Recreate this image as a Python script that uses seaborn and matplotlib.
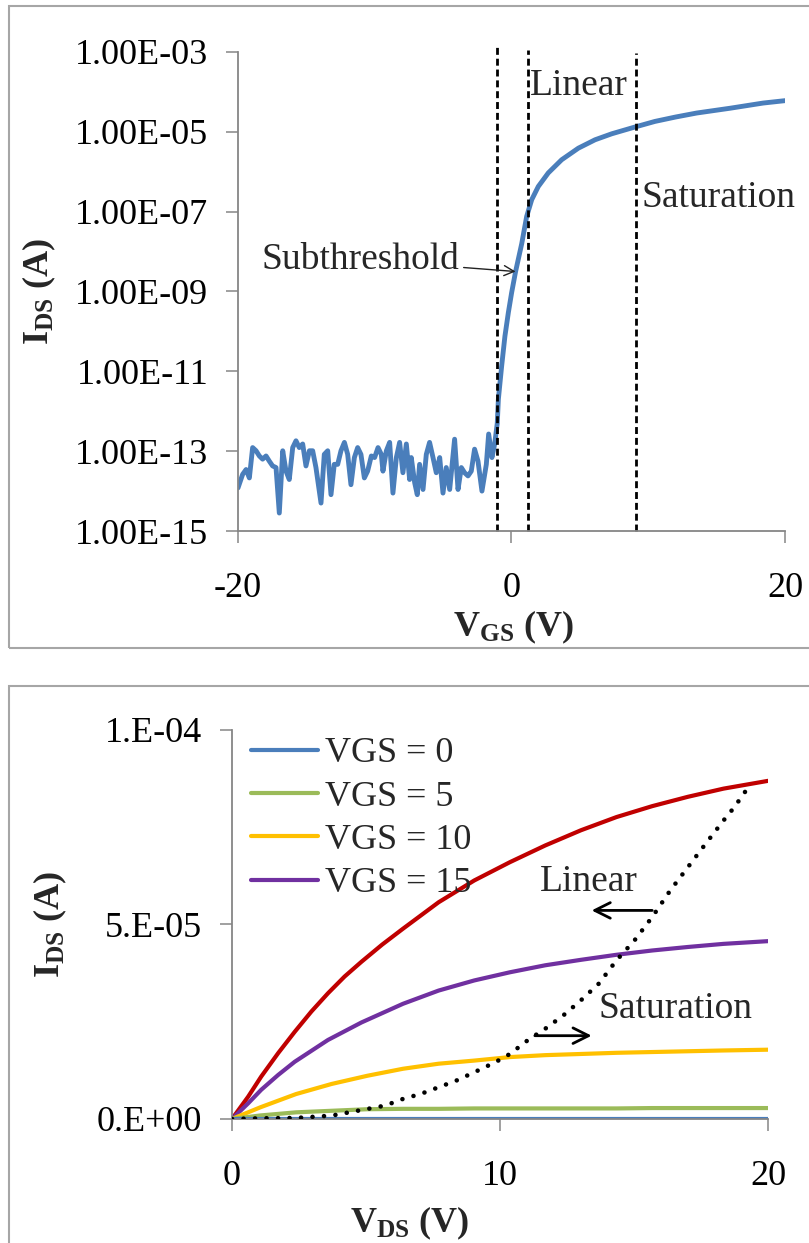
import numpy as np
import pandas as pd
import matplotlib
matplotlib.use("Agg")
import matplotlib.pyplot as plt
import seaborn as sns
from matplotlib.patches import Rectangle
from matplotlib.ticker import FixedLocator, FuncFormatter, NullLocator

# ---------------- top panel data: transfer curve ----------------
vgs_top = [
    -20.00, -19.66, -19.41, -19.17, -18.93, -18.68, -18.44, -18.20, -17.95, -17.71,
    -17.47, -17.22, -16.98, -16.73, -16.49, -16.25, -16.00, -15.76, -15.52, -15.27,
    -15.03, -14.78, -14.54, -14.30, -13.93, -13.69, -13.44, -13.20, -12.96, -12.71,
    -12.47, -12.22, -11.98, -11.74, -11.49, -11.25, -11.01, -10.76, -10.52,
    -10.25, -10.01, -9.76, -9.52, -9.40, -9.15, -8.91, -8.67, -8.42, -8.18,
    -7.94, -7.69, -7.45, -7.33, -7.08, -6.89, -6.72, -6.47, -6.23, -5.99,
    -5.74, -5.50, -5.25, -5.01, -4.77, -4.52, -4.16, -3.91, -3.67, -3.43,
    -3.18, -2.94, -2.70, -2.45, -2.16, -1.84, -1.67, -1.43, -1.23, -1.04,
    -0.96, -0.72, -0.48, -0.23, 0.01, 0.30, 0.75, 1.11, 1.48, 1.96,
    2.69, 3.67, 4.89, 6.11, 7.33, 9.03, 10.49, 12.00, 13.54, 15.98, 18.40, 20.00,
]
log10_ids_top = [
    -13.92, -13.58, -13.46, -13.67, -12.91, -12.99, -13.12, -13.20, -13.12, -13.25,
    -13.37, -13.41, -14.55, -12.99, -13.50, -13.71, -12.91, -12.74, -12.91, -12.82,
    -13.37, -12.99, -12.99, -13.41, -14.30, -13.08, -12.99, -14.09, -13.33, -13.33,
    -12.99, -12.78, -13.08, -13.84, -13.16, -12.91, -13.08, -13.67, -13.50,
    -13.12, -13.16, -12.91, -13.08, -13.50, -12.99, -12.78, -14.05, -13.16, -12.78,
    -13.54, -12.82, -13.71, -13.16, -13.79, -14.09, -13.33, -13.96, -13.08, -12.78,
    -13.16, -13.54, -13.16, -14.05, -13.41, -13.96, -12.70, -13.96, -13.41, -13.54,
    -13.62, -13.50, -12.95, -13.25, -14.00, -13.33, -12.57, -13.16, -12.82, -12.30,
    -11.70, -10.87, -10.12, -9.53, -9.03, -8.50, -7.80, -7.12, -6.70, -6.37,
    -6.03, -5.70, -5.41, -5.20, -5.05, -4.88, -4.74, -4.63, -4.53, -4.41, -4.28, -4.22,
]
region_bounds = [-1.04, 1.18, 9.10]
top_yticks = [1e-15, 1e-13, 1e-11, 1e-9, 1e-7, 1e-5, 1e-3]
top_xticks = [-20, 0, 20]

# ---------------- bottom panel data: output curves (I_DS in 1e-6 A) ----------------
vds = [0, 1.06, 2.39, 3.72, 5.05, 6.38, 7.71, 9.04, 10.37, 11.69, 13.02, 14.35, 15.68, 17.01, 18.34, 20.0]
ids_vgs0 = [0] * 16
ids_vgs5 = [0, 0.9, 1.7, 2.1, 2.5, 2.6, 2.6, 2.7, 2.7, 2.7, 2.7, 2.7, 2.8, 2.8, 2.8, 2.8]
ids_vgs10 = [0, 3.0, 6.4, 9.0, 11.1, 12.9, 14.2, 15.0, 15.9, 16.4, 16.7, 17.0, 17.2, 17.4, 17.6, 17.8]
vds_vgs15 = [0, 0.60, 1.09, 1.72, 2.34, 3.58, 4.83, 6.38, 7.71, 9.04, 10.37, 11.69, 13.02, 14.35,
             15.68, 17.01, 18.34, 20.0]
ids_vgs15 = [0, 4.0, 7.5, 11.3, 14.7, 20.3, 24.8, 29.6, 33.0, 35.6, 37.7, 39.5, 40.9, 42.2,
             43.3, 44.2, 45.0, 45.7]
vds_vgs20 = [0, 0.60, 1.09, 1.72, 2.34, 2.96, 3.58, 4.20, 4.83, 5.60, 6.38, 7.71, 9.04, 10.37, 11.69,
             13.02, 14.35, 15.68, 17.01, 18.34, 20.0]
ids_vgs20 = [0, 5.7, 10.9, 16.9, 22.4, 27.6, 32.3, 36.6, 40.4, 44.8, 48.9, 55.7, 61.3, 66.0, 70.3,
             74.2, 77.6, 80.4, 82.8, 84.9, 86.9]
vds_sat = [0, 1.06, 2.39, 3.72, 4.39, 5.05, 5.71, 6.38, 7.04, 7.71, 8.37, 9.04, 9.83, 10.37, 11.03,
           11.69, 12.36, 13.02, 13.69, 14.35, 15.02, 15.68, 16.35, 17.01, 17.67, 18.34, 18.74, 19.27]
ids_sat = [0, 0.17, 0.26, 0.86, 1.72, 2.57, 3.43, 5.15, 6.43, 8.15, 9.86, 12.0, 14.6, 16.7, 20.2,
           23.2, 26.6, 30.5, 34.8, 40.8, 45.9, 51.9, 58.7, 64.7, 70.7, 76.7, 80.1, 85.3]
legend_labels = ["VGS = 0", "VGS = 5", "VGS = 10", "VGS = 15"]
bottom_yticks = [0, 5e-5, 1e-4]
bottom_xticks = [0, 10, 20]

# ---------------- style ----------------
sns.set_style("ticks")
plt.rcParams["font.family"] = ["Liberation Serif", "DejaVu Serif"]
plt.rcParams["mathtext.fontset"] = "custom"
plt.rcParams["mathtext.rm"] = "Liberation Serif"
plt.rcParams["mathtext.bf"] = "Liberation Serif:bold"
plt.rcParams["axes.unicode_minus"] = False

FS = 26
FS_ANN = 27
SPINE = "#868686"
c_blue, c_green, c_yellow, c_purple, c_red = "#4A7EBB", "#9BBB59", "#FFC000", "#7030A0", "#C00000"

fig = plt.figure(figsize=(8.09, 12.43), dpi=100)

# panel frames
fig.patches.append(Rectangle((0.011, 0.4787), 1.2, 0.5165, transform=fig.transFigure,
                             fill=False, edgecolor="#A6A6A6", lw=1.5))
fig.patches.append(Rectangle((0.011, -0.05), 1.2, 0.4481 + 0.05, transform=fig.transFigure,
                             fill=False, edgecolor="#A6A6A6", lw=1.5))


def style_axes(ax):
    for s in ["top", "right"]:
        ax.spines[s].set_visible(False)
    for s in ["left", "bottom"]:
        ax.spines[s].set_color(SPINE)
        ax.spines[s].set_linewidth(1.3)
    ax.tick_params(axis="both", direction="out", length=8.5, width=1.1, color=SPINE,
                   labelsize=FS, labelcolor="black")
    ax.tick_params(axis="x", pad=21)
    ax.tick_params(axis="y", pad=13)
    ax.yaxis.set_minor_locator(NullLocator())
    ax.xaxis.set_minor_locator(NullLocator())


# ---------------- top panel ----------------
ax1 = fig.add_axes([0.2942, 0.5728, 0.6761, 0.3854])
df_top = pd.DataFrame({"vgs": vgs_top, "ids": np.power(10.0, log10_ids_top)})
sns.lineplot(data=df_top, x="vgs", y="ids", ax=ax1, color=c_blue, lw=3.5, sort=False)
ax1.set_yscale("log")
ax1.set_xlim(-20, 20)
ax1.set_ylim(1e-15, 1e-3)
style_axes(ax1)
ax1.yaxis.set_major_locator(FixedLocator(top_yticks))
ax1.yaxis.set_minor_locator(NullLocator())
ax1.yaxis.set_major_formatter(FuncFormatter(lambda v, p: f"{v:.2E}"))
ax1.xaxis.set_major_locator(FixedLocator(top_xticks))
ax1.xaxis.set_major_formatter(FuncFormatter(lambda v, p: f"{v:g}"))

for xb, ym in zip(region_bounds, [1.015, 1.004, 0.998]):
    ax1.axvline(xb, ymin=0, ymax=ym, color="black", lw=2, ls=(0, (2.5, 1.4)), clip_on=False)

ax1.text(region_bounds[1] + 0.2, 10 ** -3.85, "Linear", fontsize=FS_ANN, ha="left", va="center")
ax1.text(region_bounds[2] + 0.4, 10 ** -6.65, "Saturation", fontsize=FS_ANN, ha="left", va="center")
ax1.annotate("Subthreshold", xy=(0.30, 10 ** -8.50), xytext=(-3.84, 10 ** -8.2),
             fontsize=FS_ANN, ha="right", va="center",
             arrowprops=dict(arrowstyle="->", color="#222222", lw=1.0, shrinkA=1, shrinkB=0,
                             mutation_scale=18))

ax1.set_ylabel(r"$\mathbf{I_{DS}}$ (A)", fontsize=FS, fontweight="bold")
ax1.set_xlabel(r"$\mathbf{V_{GS}}$ (V)", fontsize=FS, fontweight="bold")
ax1.yaxis.set_label_coords(-0.33, 0.5)
ax1.xaxis.set_label_coords(0.503, -0.162)

# ---------------- bottom panel ----------------
ax2 = fig.add_axes([0.2868, 0.0998, 0.6625, 0.3130])
scale = 1e-6
sns.lineplot(x=vds_vgs20, y=np.array(ids_vgs20) * scale, ax=ax2, color=c_red, lw=3, sort=False)
series = [(vds_vgs15, ids_vgs15, c_purple, legend_labels[3]),
          (vds, ids_vgs10, c_yellow, legend_labels[2]),
          (vds, ids_vgs5, c_green, legend_labels[1]),
          (vds, ids_vgs0, c_blue, legend_labels[0])]
for xs, vals, col, lab in series:
    sns.lineplot(x=xs, y=np.array(vals) * scale, ax=ax2, color=col, lw=3, label=lab, sort=False)
ax2.plot(vds_sat, np.array(ids_sat) * scale, color="black", lw=3.3,
         ls=(0, (0.01, 2.5)), dash_capstyle="round", zorder=5)

ax2.set_xlim(0, 20)
ax2.set_ylim(0, 1e-4)
style_axes(ax2)
ax2.yaxis.set_major_locator(FixedLocator(bottom_yticks))
ax2.yaxis.set_major_formatter(FuncFormatter(lambda v, p: f"{v:#.0E}"))
ax2.xaxis.set_major_locator(FixedLocator(bottom_xticks))
ax2.xaxis.set_major_formatter(FuncFormatter(lambda v, p: f"{v:g}"))

ax2.annotate("", xy=(13.42, 53.6e-6), xytext=(15.68, 53.6e-6),
             arrowprops=dict(arrowstyle="->", color="black", lw=2, mutation_scale=28,
                             shrinkA=0, shrinkB=0))
ax2.annotate("", xy=(13.42, 21.4e-6), xytext=(11.3, 21.4e-6),
             arrowprops=dict(arrowstyle="->", color="black", lw=2, mutation_scale=28,
                             shrinkA=0, shrinkB=0))
ax2.text(13.3, 60.9e-6, "Linear", fontsize=FS_ANN, ha="center", va="center")
ax2.text(16.55, 28.3e-6, "Saturation", fontsize=FS_ANN, ha="center", va="center")

handles, labels = ax2.get_legend_handles_labels()
order = [labels.index(l) for l in legend_labels]
ax2.legend([handles[i] for i in order], [labels[i] for i in order],
           loc="upper left", bbox_to_anchor=(0.035, 0.982), frameon=False, fontsize=FS,
           handlelength=1.85, handletextpad=0.2, labelspacing=0.28, borderaxespad=0, borderpad=0)

ax2.set_ylabel(r"$\mathbf{I_{DS}}$ (A)", fontsize=FS, fontweight="bold")
ax2.set_xlabel(r"$\mathbf{V_{DS}}$ (V)", fontsize=FS, fontweight="bold")
ax2.yaxis.set_label_coords(-0.305, 0.5)
ax2.xaxis.set_label_coords(0.332, -0.221)

fig.savefig("out.png", dpi=100)
